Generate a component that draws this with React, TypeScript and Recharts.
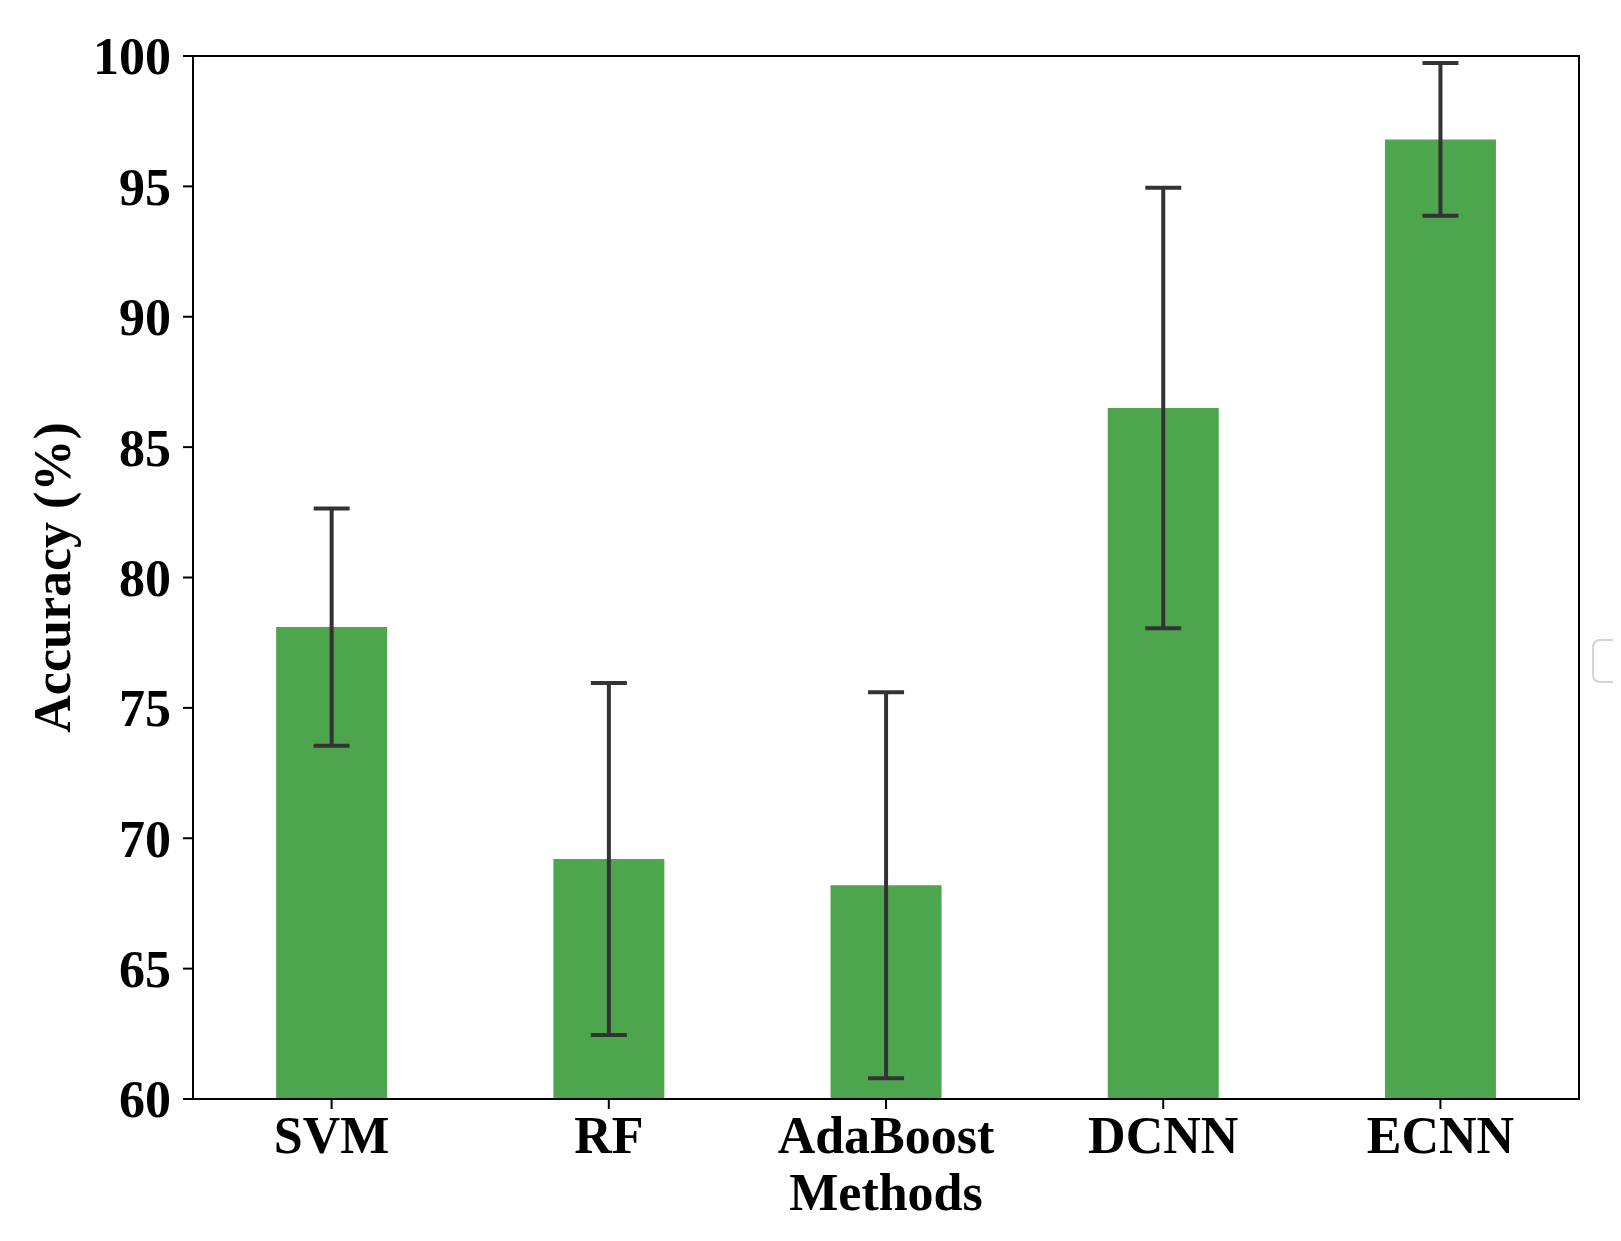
import { BarChart, Bar, XAxis, YAxis, ErrorBar, Label, ReferenceArea } from 'recharts';

const methods = ['SVM', 'RF', 'AdaBoost', 'DCNN', 'ECNN'];
const accuracy = [78.1, 69.2, 68.2, 86.5, 96.8];
const accuracyErr = [4.55, 6.75, 7.4, 8.45, 2.93];
const yTicks = [60, 65, 70, 75, 80, 85, 90, 95, 100];

const data = methods.map((name, i) => ({ name, value: accuracy[i], err: accuracyErr[i] }));

const FONT = '"Liberation Serif", "Times New Roman", serif';
const tickStyle = { fontSize: 52, fontWeight: 'bold', fill: '#000', fontFamily: FONT };
const axisStroke = { stroke: '#000', strokeWidth: 2 };

export default function App() {
  return (
    <div style={{ position: 'relative', width: 1613, height: 1233, overflow: 'hidden', background: '#fff' }}>
      <BarChart
        width={1613}
        height={1233}
        data={data}
        margin={{ top: 48, right: 42, left: 0, bottom: 0 }}
        barCategoryGap="30%"
      >
        <XAxis
          dataKey="name"
          height={142}
          tick={tickStyle}
          tickSize={10}
          tickMargin={7}
          axisLine={axisStroke}
          tickLine={axisStroke}
          interval={0}
        >
          <Label
            content={({ viewBox }: any) => (
              <text
                x={viewBox.x + viewBox.width / 2}
                y={viewBox.y + 111}
                textAnchor="middle"
                style={tickStyle}
              >
                Methods
              </text>
            )}
          />
        </XAxis>
        <YAxis
          domain={[60, 100]}
          ticks={yTicks}
          width={185}
          tick={tickStyle}
          tickSize={10}
          tickMargin={12}
          axisLine={axisStroke}
          tickLine={axisStroke}
          allowDataOverflow
        >
          <Label
            content={({ viewBox }: any) => {
              const cx = 62;
              const cy = viewBox.y + viewBox.height / 2;
              return (
                <text
                  x={cx}
                  y={cy}
                  textAnchor="middle"
                  transform={`rotate(-90, ${cx}, ${cy})`}
                  style={tickStyle}
                >
                  Accuracy (%)
                </text>
              );
            }}
          />
        </YAxis>
        <Bar dataKey="value" fill="#4DA64D" isAnimationActive={false}>
          <ErrorBar dataKey="err" width={18} stroke="#333333" strokeWidth={4} isAnimationActive={false} />
        </Bar>
        {/* frame for the top and right spines */}
        <ReferenceArea
          x1={methods[0]}
          x2={methods[methods.length - 1]}
          y1={60}
          y2={100}
          fill="none"
          fillOpacity={0}
          stroke="#000"
          strokeWidth={2}
          ifOverflow="visible"
        />
      </BarChart>
      <div
        style={{
          position: 'absolute',
          left: 1584,
          top: 631,
          width: 60,
          height: 40,
          border: '2px solid #d4d4d4',
          borderRadius: 8,
          background: '#fff',
        }}
      />
    </div>
  );
}
